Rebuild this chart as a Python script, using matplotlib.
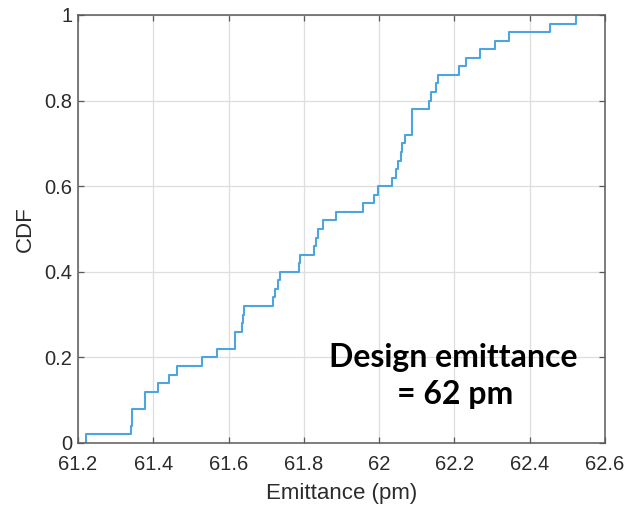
import numpy as np
import matplotlib
matplotlib.use("Agg")
import matplotlib.pyplot as plt
from matplotlib.ticker import FuncFormatter

# Emittance samples (pm) read from the empirical CDF steps
samples = [61.221,
           61.342, 61.343, 61.344,
           61.377, 61.378,
           61.412, 61.443, 61.463, 61.529, 61.569,
           61.616, 61.617,
           61.637, 61.638, 61.642,
           61.718, 61.723, 61.732, 61.736,
           61.788, 61.789,
           61.826, 61.831, 61.838, 61.851, 61.886, 61.956, 61.987, 61.996,
           62.033, 62.044, 62.051, 62.057, 62.062, 62.069,
           62.086, 62.087, 62.088,
           62.132, 62.139, 62.150, 62.157, 62.212, 62.231, 62.267, 62.307,
           62.344, 62.453, 62.524]

x_ticks = [61.2, 61.4, 61.6, 61.8, 62.0, 62.2, 62.4, 62.6]
y_ticks = [0, 0.2, 0.4, 0.6, 0.8, 1.0]

xs = np.sort(np.array(samples))
n = len(xs)
cdf = np.arange(1, n + 1) / n
x_plot = np.concatenate([[xs[0]], xs])
y_plot = np.concatenate([[0.0], cdf])

plt.rcParams['font.family'] = ['Liberation Sans', 'DejaVu Sans']

fig = plt.figure(figsize=(6.28, 5.07), dpi=100)
ax = fig.add_axes([78/628, 1-443/507, (605-78)/628, (443-15)/507])

ax.step(x_plot, y_plot, where='post', color='#4da5df', linewidth=1.5)

ax.set_xlim(61.2, 62.6)
ax.set_ylim(0, 1)
ax.set_xticks(x_ticks)
ax.set_yticks(y_ticks)
ax.xaxis.set_major_formatter(FuncFormatter(lambda v, p: f"{v:g}"))
ax.yaxis.set_major_formatter(FuncFormatter(lambda v, p: f"{v:g}"))
ax.grid(True, color='#dedede', linewidth=0.9)
ax.set_axisbelow(True)
for s in ax.spines.values():
    s.set_color('#5a5a5a')
    s.set_linewidth(1.1)
ax.tick_params(direction='in', length=4, width=0.9, color='#5a5a5a',
               labelcolor='#2b2b2b', labelsize=14.5, top=True, right=True)
ax.tick_params(axis='x', pad=9)
ax.tick_params(axis='y', pad=4)
ax.set_xlabel('Emittance (pm)', fontsize=16, color='#2b2b2b', labelpad=6)
ax.set_ylabel('CDF', fontsize=16, color='#2b2b2b', labelpad=6)

ax.text(62.197, 0.178, 'Design emittance', ha='center', va='baseline',
        fontsize=23, fontweight='bold', family=['Lato', 'DejaVu Sans'], color='black')
ax.text(62.203, 0.091, '= 62 pm', ha='center', va='baseline',
        fontsize=23, fontweight='bold', family=['Lato', 'DejaVu Sans'], color='black')

fig.savefig('out.png', dpi=100)
